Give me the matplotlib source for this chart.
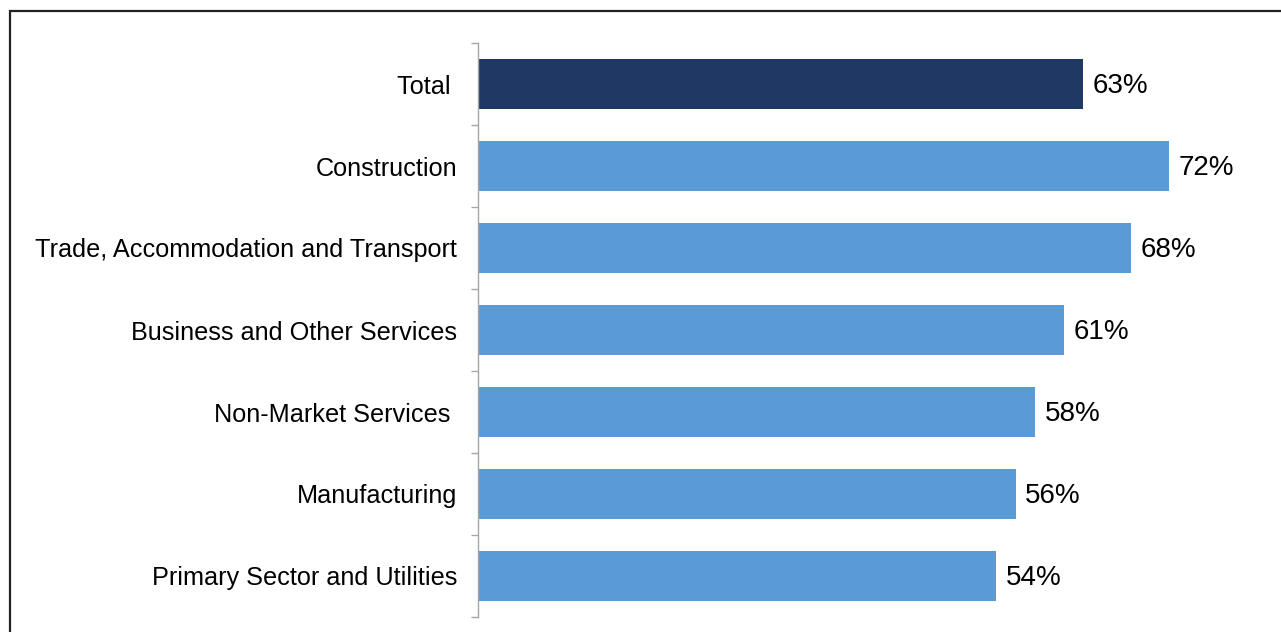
import matplotlib
matplotlib.use("Agg")
import matplotlib.pyplot as plt
from matplotlib.patches import Rectangle
import numpy as np

plt.rcParams['font.family'] = ['Liberation Sans', 'DejaVu Sans']

categories = ["Total ", "Construction", "Trade, Accommodation and Transport",
              "Business and Other Services", "Non-Market Services ",
              "Manufacturing", "Primary Sector and Utilities"]
values = [63, 72, 68, 61, 58, 56, 54]
colors = ["#203864"] + ["#5B9BD5"] * 6

W, H = 1281, 632
fig = plt.figure(figsize=(W / 100, H / 100), dpi=100)
fig.patch.set_facecolor("white")

# outer frame (left and top edges visible)
fig.patches.append(Rectangle((10 / W, -0.1), 1.2, (1 - 11 / H) + 0.1,
                             transform=fig.transFigure, fill=False,
                             edgecolor="#222222", linewidth=1.6))

ax = fig.add_axes([478 / W, 1 - 617 / H, (80 * 9.6) / W, (617 - 43) / H])
y = np.arange(len(categories))
ax.barh(y, values, height=0.62, color=colors, edgecolor="none")
ax.set_xlim(0, 80)
ax.set_ylim(len(categories) - 0.5, -0.5)

for yi, v in zip(y, values):
    ax.text(v + 1.0, yi + 0.03, f"{v}%", va="center", ha="left", fontsize=20,
            color="#000000")

ax.set_yticks(y)
ax.set_yticklabels(categories, fontsize=18.2)
ax.tick_params(axis="y", which="major", length=0, pad=15)
ax.set_yticks(np.arange(-0.5, len(categories), 1), minor=True)
ax.tick_params(axis="y", which="minor", length=5, width=1, color="#A6A6A6")
ax.set_xticks([])
for s in ["top", "right", "bottom"]:
    ax.spines[s].set_visible(False)
ax.spines["left"].set_color("#A6A6A6")
ax.spines["left"].set_linewidth(1)

fig.savefig("out.png", dpi=100)
